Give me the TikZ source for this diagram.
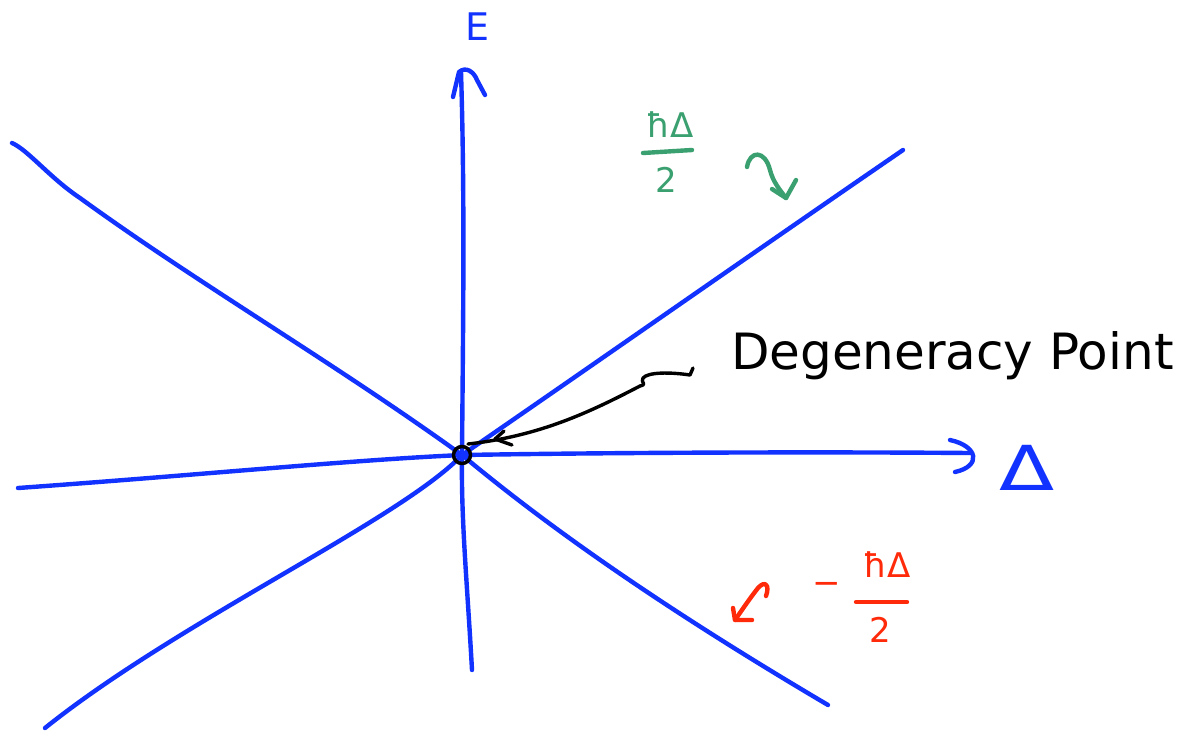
\documentclass[tikz,border=0pt]{standalone}
\usepackage{fontspec}
\setmainfont{DejaVu Sans}
\definecolor{pen}{HTML}{1232FF}
\definecolor{grn}{HTML}{3AA070}
\definecolor{rd}{HTML}{FF2A0A}
\begin{document}
\begin{tikzpicture}[x=1pt,y=-1pt,
  ink/.style={line width=4.4pt, line cap=round, line join=round},
  axis/.style={ink, pen},
  lbl/.style={inner sep=0pt, outer sep=0pt},
  frac/.style={lbl, font=\fontsize{34}{36}\selectfont}]
\useasboundingbox (0,0) rectangle (1194,732);
\fill[white] (0,0) rectangle (1194,732);

% key points
\coordinate (O) at (462,455);
\coordinate (Etop) at (461,72);
\coordinate (Ebot) at (472,670);
\coordinate (Xl) at (18,488);
\coordinate (Xr) at (970,453);
\coordinate (UR) at (903,150);
\coordinate (UL) at (12,143);
\coordinate (LL) at (45,728);
\coordinate (LR) at (828,705);

% vertical axis
\draw[axis] (Ebot) .. controls (467,580) and (461,520) .. (O)
  .. controls (463,330) and (465,200) .. (Etop);
\draw[axis] (453,97) -- (459,72) .. controls (466,66) and (474,72) .. (477,80) -- (485,95);
% horizontal axis
\draw[axis] (Xl) .. controls (200,475) and (350,460) .. (O)
  .. controls (650,452) and (850,452) .. (Xr);
\draw[axis] (950,440) .. controls (978,446) and (982,466) .. (955,472);
% diagonal lines
\draw[axis] (O) .. controls (600,360) and (750,255) .. (UR);
\draw[axis] (UL) .. controls (28,150) and (50,178) .. (80,198) .. controls (200,285) and (330,360) .. (O);
\draw[axis] (LL) .. controls (180,620) and (400,520) .. (O);
\draw[axis] (O) .. controls (540,520) and (650,600) .. (LR);

% labels on axes
\node[lbl, pen, font=\fontsize{38}{40}\selectfont] (Elabel) at (477,27) {E};
\node[lbl, pen, font=\fontsize{62}{64}\selectfont] (Dlabel) at (1027,468) {\scalebox{1.3}[1]{Δ}};

% degeneracy point
\node[circle, draw=black, line width=3.5pt, minimum size=17pt, inner sep=0pt] (deg) at (O) {};
\node[lbl, anchor=west, font=\fontsize{50}{52}\selectfont] (degtext) at (731,356) {Degeneracy Point};
\coordinate (tip) at (468,444);
\draw[ink, black, line width=3.4pt] (693,368) -- (690,375) .. controls (670,372) and (648,372) .. (643,378)
  .. controls (640,383) and (648,384) .. (640,386)
  .. controls (590,412) and (540,436) .. (tip);
\draw[ink, black, line width=3.4pt] (504,431) -- (495,439) -- (512,445);

% energies
\node[frac, grn] (plusnum) at (670,125) {ħΔ};
\node[frac, grn] (plusden) at (666,180) {2};
\draw[ink, grn] (643,153) -- (692,150);
\draw[ink, grn] (747,167) .. controls (750,150) and (765,150) .. (770,170) .. controls (773,182) and (780,190) .. (786,198);
\draw[ink, grn] (772,189) -- (786,198) -- (796,180);

\node[frac, rd] (minussign) at (827,588) {−};
\node[frac, rd] (minusnum) at (887,565) {ħΔ};
\node[frac, rd] (minusden) at (880,630) {2};
\draw[ink, rd] (856,602) -- (907,602);
\draw[ink, rd] (766,596) .. controls (770,585) and (765,580) .. (758,588) .. controls (750,598) and (742,610) .. (735,620);
\draw[ink, rd] (733,608) -- (735,620) -- (752,620);
\end{tikzpicture}
\end{document}
